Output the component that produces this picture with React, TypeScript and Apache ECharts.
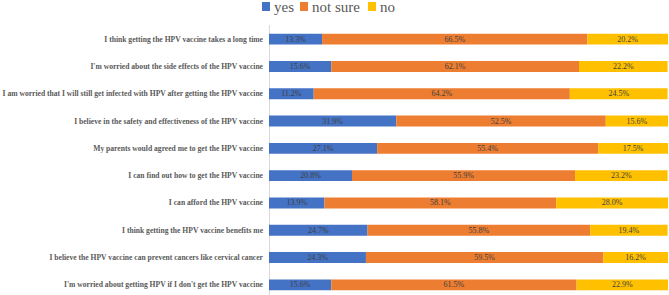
import React, { useEffect, useRef } from "react";
import * as echarts from "echarts";

const categories = [
  "I think getting the HPV vaccine takes a long time",
  "I'm worried about the side effects of the HPV vaccine",
  "I am worried that I will still get infected with HPV after getting the HPV vaccine",
  "I believe in the safety and effectiveness of the HPV vaccine",
  "My parents would agreed me to get the HPV vaccine",
  "I can find out how to get the HPV vaccine",
  "I can afford the HPV vaccine",
  "I think getting the HPV vaccine benefits me",
  "I believe the HPV vaccine can prevent cancers like cervical cancer",
  "I'm worried about getting HPV if I don't get the HPV vaccine",
];

const seriesNames = ["yes", "not sure", "no"];
const seriesColors = ["#4472C4", "#ED7D31", "#FFC000"];
const yes = [13.3, 15.6, 11.2, 31.9, 27.1, 20.8, 13.9, 24.7, 24.3, 15.6];
const notSure = [66.5, 62.1, 64.2, 52.5, 55.4, 55.9, 58.1, 55.8, 59.5, 61.5];
const no = [20.2, 22.2, 24.5, 15.6, 17.5, 23.2, 28.0, 19.4, 16.2, 22.9];

const FONT = "'Liberation Serif', serif";

// legend key positions (left edge of each swatch and its caption)
const legendSwatchX = [262, 300, 368];
const legendTextX = [274, 312, 380];

export default function App() {
  const ref = useRef<HTMLDivElement>(null);

  useEffect(() => {
    if (!ref.current) return;
    const chart = echarts.init(ref.current, undefined, { renderer: "svg" });

    const mkSeries = (name: string, data: number[], color: string) => ({
      name,
      type: "bar",
      stack: "total",
      data,
      barWidth: "40%",
      itemStyle: { color },
      label: {
        show: true,
        position: "inside",
        formatter: (p: any) => `${p.value.toFixed(1)}%`,
        fontFamily: FONT,
        fontSize: 8,
        color: "#404040",
      },
    });

    const legendGraphics: any[] = [];
    seriesNames.forEach((name, i) => {
      legendGraphics.push({
        type: "rect",
        shape: { x: legendSwatchX[i], y: 2, width: 8, height: 9 },
        style: { fill: seriesColors[i] },
      });
      legendGraphics.push({
        type: "text",
        x: legendTextX[i],
        y: 7,
        style: {
          text: name,
          fontFamily: FONT,
          fontSize: 15,
          fill: "#595959",
          textVerticalAlign: "middle",
          verticalAlign: "middle",
        },
      });
    });

    chart.setOption({
      animation: false,
      textStyle: { fontFamily: FONT },
      graphic: legendGraphics,
      grid: { left: 269, right: 1, top: 25.5, height: 273, outerBoundsMode: "none" },
      xAxis: {
        type: "value",
        min: 0,
        max: 100,
        show: false,
      },
      yAxis: {
        type: "category",
        inverse: true,
        data: categories,
        axisLine: { show: true, lineStyle: { color: "#d9d9d9" } },
        axisTick: { show: false },
        axisLabel: {
          fontFamily: FONT,
          fontWeight: "bold",
          fontSize: 7.6,
          color: "#595959",
          margin: 6,
        },
      },
      series: [
        mkSeries(seriesNames[0], yes, seriesColors[0]),
        mkSeries(seriesNames[1], notSure, seriesColors[1]),
        mkSeries(seriesNames[2], no, seriesColors[2]),
      ],
    });

    return () => chart.dispose();
  }, []);

  return (
    <div
      ref={ref}
      style={{ position: "absolute", left: 0, top: 0, width: 669, height: 295 }}
    />
  );
}
